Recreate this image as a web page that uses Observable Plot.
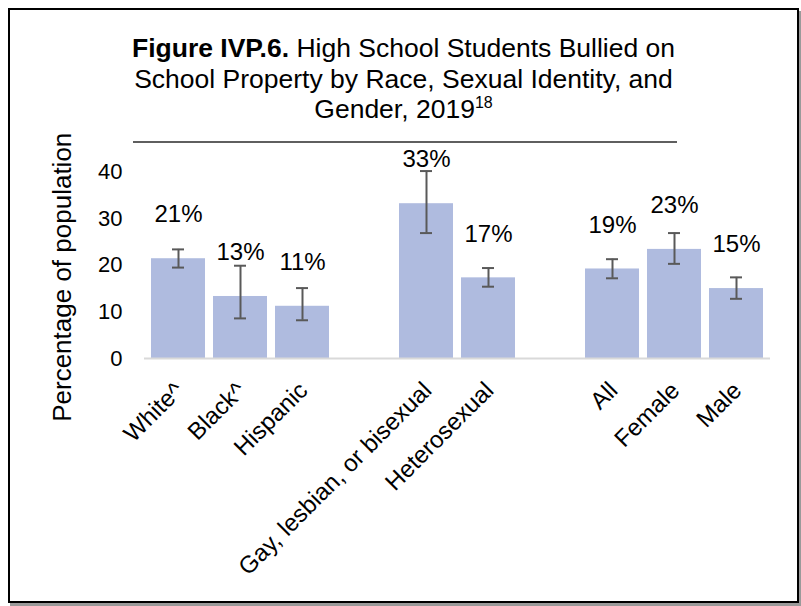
<!DOCTYPE html>
<html>
<head>
<meta charset="utf-8">
<script src="https://cdn.jsdelivr.net/npm/d3@7"></script>
<script src="https://cdn.jsdelivr.net/npm/@observablehq/plot@0.6"></script>
<style>
html, body { margin: 0; padding: 0; background: #fff; }
body { width: 801px; height: 606px; position: relative; overflow: hidden; font-family: "Liberation Sans", Arial, sans-serif; }
#frame { position: absolute; left: 8px; top: 8px; width: 791px; height: 595px; box-sizing: border-box; border: 2px solid #000; box-shadow: 2px 3px 0 #9a9a9a; }
#title { position: absolute; left: 10px; width: 787px; top: 33px; text-align: center; font-size: 26.5px; line-height: 30.5px; color: #000; }
#title sup { font-size: 16px; line-height: 0; vertical-align: 10px; }
#rule { position: absolute; left: 133px; top: 141px; width: 544px; border-top: 2px solid #5f5f5f; }
#chart { position: absolute; left: 0; top: 140px; }
</style>
</head>
<body>
<div id="frame"></div>
<div id="title"><b>Figure IVP.6.</b> High School Students Bullied on<br>School Property by Race, Sexual Identity, and<br>Gender, 2019<sup>18</sup></div>
<div id="chart"></div>
<div id="rule"></div>
<script>
// ---- data ----
const categories = ["White^", "Black^", "Hispanic", "Gay, lesbian, or bisexual", "Heterosexual", "All", "Female", "Male"];
const groups = ["Race", "Race", "Race", "Sexual identity", "Sexual identity", "Gender", "Gender", "Gender"];
const values = [21.4, 13.3, 11.2, 33.2, 17.3, 19.2, 23.4, 15.0];
const errLow = [19.5, 8.6, 8.2, 26.9, 15.4, 17.2, 20.3, 12.8];
const errHigh = [23.4, 19.9, 15.1, 40.2, 19.4, 21.3, 26.9, 17.4];
const yTicks = [0, 10, 20, 30, 40];
const yTitle = "Percentage of population";

// band slots with an empty slot between groups
const slots = [];
categories.forEach((c, i) => {
  if (i > 0 && groups[i] !== groups[i - 1]) slots.push("gap-" + i);
  slots.push(c);
});
const rows = categories.map((c, i) => ({category: c, value: values[i], lo: errLow[i], hi: errHigh[i]}));

const errColor = "#595959";
const chart = Plot.plot({
  width: 801,
  height: 460,
  marginLeft: 144,
  marginRight: 31,
  marginTop: 31.5,
  marginBottom: 242,
  style: {background: "transparent", fontFamily: "'Liberation Sans', Arial, sans-serif", color: "#000", overflow: "visible"},
  x: {domain: slots, paddingInner: 0.13, paddingOuter: 0.065},
  y: {domain: [0, 40]},
  marks: [
    Plot.barY(rows, {x: "category", y: "value", fill: "#AFBBDF"}),
    Plot.ruleY([0], {stroke: "#d9d9d9", strokeWidth: 2}),
    Plot.ruleX(rows, {x: "category", y1: "lo", y2: "hi", stroke: errColor, strokeWidth: 2}),
    Plot.tickY(rows, {x: "category", y: "lo", stroke: errColor, strokeWidth: 2, insetLeft: 21, insetRight: 21}),
    Plot.tickY(rows, {x: "category", y: "hi", stroke: errColor, strokeWidth: 2, insetLeft: 21, insetRight: 21}),
    Plot.text(rows, {x: "category", y: "value", text: d => Math.round(d.value) + "%", dy: -44, fontSize: 24, fill: "#000"}),
    Plot.axisY({ticks: yTicks, tickSize: 0, tickPadding: 22, fontSize: 22, label: null}),
    Plot.axisX({ticks: categories, tickSize: 0, tickPadding: 28, tickRotate: -45, fontSize: 24, label: null, textAnchor: "end", lineAnchor: "middle", dx: 1}),
    Plot.text([yTitle], {frameAnchor: "left", textAnchor: "middle", lineAnchor: "middle", rotate: -90, dx: -81.5, dy: 12, fontSize: 26, text: d => d, fill: "#000"})
  ]
});
document.getElementById("chart").appendChild(chart);
</script>
</body>
</html>
